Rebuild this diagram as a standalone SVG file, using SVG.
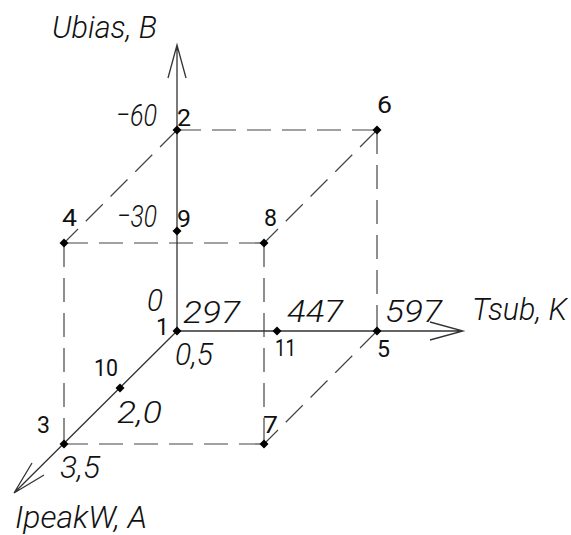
<svg xmlns="http://www.w3.org/2000/svg" width="571" height="535" viewBox="0 0 571 535">
<style>
.axis{stroke:#333;stroke-width:1.3;fill:none}
.dash{stroke:#444;stroke-width:1.2;fill:none;stroke-dasharray:24 11}
.val{font-family:Roboto,"Liberation Sans",Arial,sans-serif;font-weight:300;font-style:italic;font-size:32px;fill:#111}
.ttl{font-family:Roboto,"Liberation Sans",Arial,sans-serif;font-weight:300;font-style:italic;font-size:32px;fill:#111}
.num{font-family:Roboto,"Liberation Sans",Arial,sans-serif;font-weight:400;font-size:23px;fill:#111}
</style>
<defs>
<path id="dot" d="M0,-4.5 L4.5,0 L0,4.5 L-4.5,0 Z"/>
</defs>
<rect width="571" height="535" fill="#fff"/>
<g id="connectors">
<path class="dash" d="M177,130 H377"/>
<path class="dash" d="M377,130 V331"/>
<path class="dash" d="M177,130 L64,243"/>
<path class="dash" d="M377,130 L264,243"/>
<path class="dash" d="M64,243 H264"/>
<path class="dash" d="M64,243 V444"/>
<path class="dash" d="M264,243 V444"/>
<path class="dash" d="M64,444 H264"/>
<path class="dash" d="M377,331 L264,444"/>
<path class="axis" d="M177,331 V45 M168,78 L177,45 L186,78"/>
<path class="axis" d="M177,331 H463 M430,322 L463,331 L430,340"/>
<path class="axis" d="M177,331 L14,493 M44,475 L14,493 L32,463"/>
</g>
<g id="axis-labels">
<text class="ttl" x="52" y="38" textLength="105" lengthAdjust="spacingAndGlyphs">Ubias, B</text>
<text class="ttl" x="472" y="320" textLength="95" lengthAdjust="spacingAndGlyphs">Tsub, K</text>
<text class="ttl" x="15" y="528" textLength="132" lengthAdjust="spacingAndGlyphs">IpeakW, A</text>
</g>
<g id="values">
<text class="val" x="116" y="126" textLength="41" lengthAdjust="spacingAndGlyphs">−60</text>
<text class="val" x="117" y="227" textLength="40" lengthAdjust="spacingAndGlyphs">−30</text>
<text class="val" x="147" y="311" textLength="16" lengthAdjust="spacingAndGlyphs">0</text>
<text class="val" x="183" y="323" textLength="57" lengthAdjust="spacingAndGlyphs">297</text>
<text class="val" x="287" y="322" textLength="56" lengthAdjust="spacingAndGlyphs">447</text>
<text class="val" x="385" y="322" textLength="57" lengthAdjust="spacingAndGlyphs">597</text>
<text class="val" x="175" y="365" textLength="38" lengthAdjust="spacingAndGlyphs">0,5</text>
<text class="val" x="117" y="423" textLength="45" lengthAdjust="spacingAndGlyphs">2,0</text>
<text class="val" x="60" y="478" textLength="40" lengthAdjust="spacingAndGlyphs">3,5</text>
</g>
<g id="n1"><use href="#dot" x="177" y="331"/><text class="num" x="156" y="335">1</text></g>
<g id="n2"><use href="#dot" x="177" y="130"/><text class="num" x="177" y="126" textLength="14" lengthAdjust="spacingAndGlyphs">2</text></g>
<g id="n3"><use href="#dot" x="64" y="444"/><text class="num" x="37" y="433" textLength="13" lengthAdjust="spacingAndGlyphs">3</text></g>
<g id="n4"><use href="#dot" x="64" y="243"/><text class="num" x="62" y="226" textLength="15" lengthAdjust="spacingAndGlyphs">4</text></g>
<g id="n5"><use href="#dot" x="377" y="331"/><text class="num" x="377" y="357" textLength="13" lengthAdjust="spacingAndGlyphs">5</text></g>
<g id="n6"><use href="#dot" x="377" y="130"/><text class="num" x="377" y="113" textLength="15" lengthAdjust="spacingAndGlyphs">6</text></g>
<g id="n7"><use href="#dot" x="264" y="444"/><text class="num" x="263" y="433" textLength="15" lengthAdjust="spacingAndGlyphs">7</text></g>
<g id="n8"><use href="#dot" x="264" y="243"/><text class="num" x="264" y="226" textLength="13" lengthAdjust="spacingAndGlyphs">8</text></g>
<g id="n9"><use href="#dot" x="177" y="231"/><text class="num" x="177" y="227" textLength="14" lengthAdjust="spacingAndGlyphs">9</text></g>
<g id="n10"><use href="#dot" x="120" y="388"/><text class="num" x="94" y="376" textLength="24" lengthAdjust="spacingAndGlyphs">10</text></g>
<g id="n11"><use href="#dot" x="277" y="331"/><text class="num" x="275" y="356" textLength="21" lengthAdjust="spacingAndGlyphs">11</text></g>
</svg>
